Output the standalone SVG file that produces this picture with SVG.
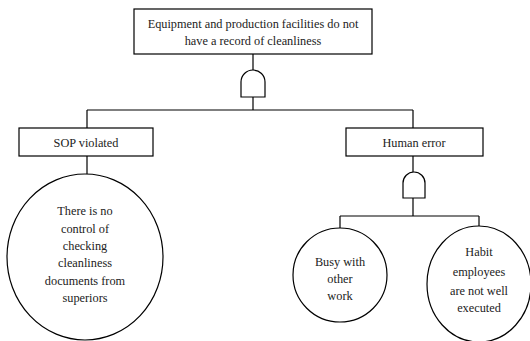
<svg xmlns="http://www.w3.org/2000/svg" width="530" height="341" viewBox="0 0 530 341">
<style>
.box{fill:#fff;stroke:#000;stroke-width:1.2}
.ev{fill:#fff;stroke:#000;stroke-width:1.2}
.gate{fill:#fff;stroke:#000;stroke-width:1.2}
.ln{fill:none;stroke:#000;stroke-width:1.2}
text{font-family:'Liberation Serif','DejaVu Serif',serif;font-size:12.3px;fill:#222;text-anchor:middle}
</style>
<rect width="530" height="341" fill="#fff"/>
<g id="connectors">
<path class="ln" d="M253 54V70M253 97V110M87 110H413M87 110V128M413 110V128M87 156V174M413 156V172M413 198V216M340 216H479M340 216V228M479 216V226"/>
</g>
<g id="top">
<rect class="box" x="134" y="9" width="238" height="45"/>
<text x="253" y="28">Equipment and production facilities do not</text>
<text x="253" y="45">have a record of cleanliness</text>
</g>
<g id="gate1">
<path class="gate" d="M241 97V82A12 12 0 0 1 265 82V97Z"/>
</g>
<g id="sop">
<rect class="box" x="19" y="128" width="134" height="28"/>
<text x="86" y="147">SOP violated</text>
</g>
<g id="human">
<rect class="box" x="346" y="128" width="137" height="28"/>
<text x="414" y="147">Human error</text>
</g>
<g id="gate2">
<path class="gate" d="M403 198V183A11 11 0 0 1 425 183V198Z"/>
</g>
<g id="control">
<ellipse class="ev" cx="85" cy="257" rx="78" ry="83"/>
<text x="85" y="215">There is no</text>
<text x="85" y="233">control of</text>
<text x="85" y="250">checking</text>
<text x="85" y="267">cleanliness</text>
<text x="85" y="285">documents from</text>
<text x="85" y="302">superiors</text>
</g>
<g id="busy">
<ellipse class="ev" cx="340" cy="275" rx="47" ry="47"/>
<text x="340" y="266">Busy with</text>
<text x="340" y="283">other</text>
<text x="340" y="300">work</text>
</g>
<g id="habit">
<ellipse class="ev" cx="479" cy="284" rx="52" ry="58"/>
<text x="479" y="256">Habit</text>
<text x="479" y="276">employees</text>
<text x="479" y="295">are not well</text>
<text x="479" y="312">executed</text>
</g>
</svg>
